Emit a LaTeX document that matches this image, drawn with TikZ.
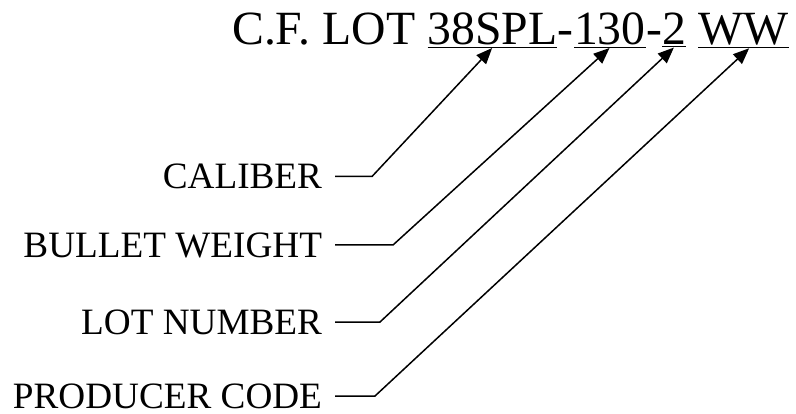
\documentclass[tikz,border=0pt]{standalone}
\usepackage{fontspec}
\setmainfont{Liberation Serif}
\usetikzlibrary{arrows.meta,positioning}

\begin{document}
\begin{tikzpicture}[x=1pt,y=1pt]
\tikzset{
  codepart/.style={inner sep=0pt,anchor=base west,font=\fontsize{47.7}{57}\selectfont},
  fieldlabel/.style={inner sep=0pt,outer xsep=13pt,anchor=east,font=\fontsize{37.2}{45}\selectfont},
  leader/.style={-{Triangle[length=16pt,width=13pt]},line width=1.5pt,shorten >=0.5pt}
}
\useasboundingbox (0,0) rectangle (796,413);
% lot code line
\node[codepart] (c_pre) at (232,368) {C.F. LOT};
\node[codepart] (c_cal) at ([xshift=11.9pt]c_pre.base east) {\underline{38SPL}};
\node[codepart] (c_d1) at (c_cal.base east) {-};
\node[codepart] (c_wt) at (c_d1.base east) {\underline{130}};
\node[codepart] (c_d2) at (c_wt.base east) {-};
\node[codepart] (c_lot) at (c_d2.base east) {\underline{2}};
\node[codepart] (c_prod) at ([xshift=11.9pt]c_lot.base east) {\underline{WW}};
% field labels
\node[fieldlabel] (l_cal) at (335,236.5) {CALIBER};
\node[fieldlabel] (l_wt) at (335,168) {BULLET WEIGHT};
\node[fieldlabel] (l_lot) at (335,91) {LOT NUMBER};
\node[fieldlabel] (l_prod) at (335,17) {PRODUCER CODE};
\draw[leader] (l_cal.east) -- ++(37,0) -- (c_cal.south);
\draw[leader] (l_wt.east) -- ++(58,0) -- (c_wt.south);
\draw[leader] (l_lot.east) -- ++(45,0) -- (c_lot.south);
\draw[leader] (l_prod.east) -- ++(40,0) -- ([xshift=6pt]c_prod.south);
\end{tikzpicture}
\end{document}
